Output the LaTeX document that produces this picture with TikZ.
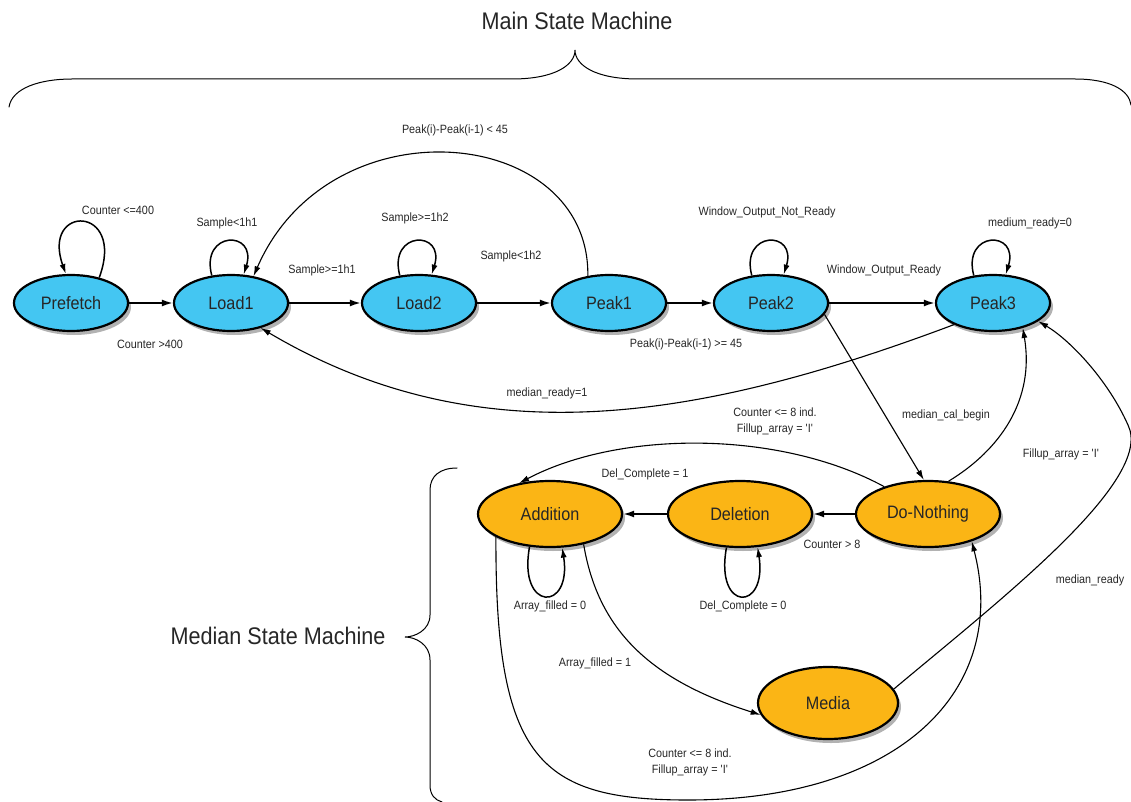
\documentclass[tikz,border=0pt]{standalone}
\usepackage{fontspec}
\setmainfont{Liberation Sans}[FakeStretch=0.9]
\usetikzlibrary{shapes.geometric,arrows.meta,shadows}
\definecolor{sblue}{HTML}{44C6F2}
\definecolor{sorange}{HTML}{FBB515}
\definecolor{txt}{HTML}{262626}
\begin{document}
\begin{tikzpicture}[x=1pt,y=-1pt,
  st/.style={ellipse,draw=black,line width=2.2pt,minimum width=114pt,minimum height=56pt,inner sep=0pt,
    font=\fontsize{18}{20}\selectfont,text=txt,fill=sblue,
    drop shadow={shadow xshift=3pt,shadow yshift=-4pt,opacity=0.3,fill=black}},
  ost/.style={st,fill=sorange,minimum width=144pt,minimum height=66pt},
  lab/.style={font=\fontsize{12}{16}\selectfont,text=txt,align=center,inner sep=1pt},
  big/.style={font=\fontsize{24}{28}\selectfont,text=txt,inner sep=0pt},
  main/.style={-{Latex[length=11pt,width=7pt]},line width=1.8pt},
  cur/.style={-{Latex[length=10pt,width=6pt]},line width=1.1pt},
  lp/.style={-{Latex[length=10pt,width=6pt]},line width=1.5pt},
  brace/.style={line width=1pt,line cap=round}]
\useasboundingbox (0,0) rectangle (1131,802);

% braces
\draw[brace] (9,107) .. controls (12,88) and (40,79) .. (72,79) -- (512,79)
  .. controls (555,79) and (575,65) .. (575,50)
  .. controls (575,65) and (595,79) .. (638,79) -- (1075,79)
  .. controls (1110,79) and (1129,90) .. (1131,105);
\draw[brace] (457,468) .. controls (440,468) and (430,476) .. (430,490) -- (430,615)
  .. controls (430,630) and (415,637) .. (405,637)
  .. controls (415,637) and (430,644) .. (430,660) -- (430,785)
  .. controls (430,795) and (435,800) .. (442,802);
\node[big] (title) at (577,21) {Main State Machine};
\node[big] (mtitle) at (278,636) {Median State Machine};

% states
\node[st] (pre) at (71,303) {Prefetch};
\node[st] (l1) at (231,303) {Load1};
\node[st] (l2) at (419,303) {Load2};
\node[st] (p1) at (609,303) {Peak1};
\node[st] (p2) at (771,303) {Peak2};
\node[st] (p3) at (993,303) {Peak3};
\node[ost] (add) at (550,514) {Addition};
\node[ost] (del) at (740,514) {Deletion};
\node[ost] (dn) at (928,514) {Do-Nothing};
\node[ost,minimum width=140pt,minimum height=72pt] (me) at (828,703) {Media};

% straight transitions
\draw[main] (pre) -- (l1);
\draw[main] (l1) -- (l2);
\draw[main] (l2) -- (p1);
\draw[main] (p1) -- (p2);
\draw[main] (p2) -- (p3);
\draw[main] (dn) -- (del);
\draw[main] (del) -- (add);

% self loops
\draw[lp] (pre.42) .. controls +(27,-73) and +(-25,-70) .. (pre.100);
\draw[lp] (l1.125) .. controls +(-12,-45) and +(14,-45) .. (l1.66);
\draw[lp] (l2.125) .. controls +(-12,-45) and +(14,-45) .. (l2.66);
\draw[lp] (p2.125) .. controls +(-12,-45) and +(14,-45) .. (p2.66);
\draw[lp] (p3.125) .. controls +(-12,-45) and +(14,-45) .. (p3.66);
\draw[lp] (add.-122) .. controls +(-12,65) and +(10,65) .. (add.-70);
\draw[lp] (del.-112) .. controls +(-12,65) and +(10,65) .. (del.-62);

% curved transitions
\draw[cur] (p1.128) .. controls (590,125) and (330,100) .. (l1.50);
\draw[cur] (p3.-151) .. controls (700,420) and (480,458) .. (l1.-40);
\draw[cur] (p2.-12) -- (dn.97);
\draw[cur] (dn.58) .. controls (1000,450) and (1035,400) .. (p3.-40);
\draw[cur] (me.12) .. controls (1000,600) and (1155,480) .. (1128,425)
  .. controls (1108,380) and (1070,340) .. (p3.-22);
\draw[cur] (dn.148) .. controls (780,430) and (620,430) .. (add.135);
\draw[cur] (add.-42) .. controls (598,630) and (650,680) .. (me.190);
\draw[cur] (add.-157) .. controls (495,760) and (540,800) .. (688,800)
  .. controls (900,800) and (1010,690) .. (dn.-32);

% labels
\node[lab] (t1) at (118,210) {Counter <=400};
\node[lab] (t2) at (150,344) {Counter >400};
\node[lab] (t3) at (227,223) {Sample<1h1};
\node[lab] (t4) at (322,270) {Sample>=1h1};
\node[lab] (t5) at (415,218) {Sample>=1h2};
\node[lab] (t6) at (511,256) {Sample<1h2};
\node[lab] (t7) at (455,130) {Peak(i)-Peak(i-1) < 45};
\node[lab] (t8) at (686,344) {Peak(i)-Peak(i-1) >= 45};
\node[lab] (t9) at (767,212) {Window\_Output\_Not\_Ready};
\node[lab] (t10) at (884,270) {Window\_Output\_Ready};
\node[lab] (t11) at (1030,223) {medium\_ready=0};
\node[lab] (t12) at (547,393) {median\_ready=1};
\node[lab] (t13) at (946,415) {median\_cal\_begin};
\node[lab] (t14) at (775,421) {Counter <= 8 ind.\\Fillup\_array = \textquotesingle I\textquotesingle};
\node[lab] (t15) at (1061,454) {Fillup\_array = \textquotesingle I\textquotesingle};
\node[lab] (t16) at (645,474) {Del\_Complete = 1};
\node[lab] (t17) at (832,544) {Counter > 8};
\node[lab] (t18) at (550,606) {Array\_filled = 0};
\node[lab] (t19) at (743,606) {Del\_Complete = 0};
\node[lab] (t20) at (595,663) {Array\_filled = 1};
\node[lab] (t21) at (1090,580) {median\_ready};
\node[lab] (t22) at (690,762) {Counter <= 8 ind.\\Fillup\_array = \textquotesingle I\textquotesingle};
\end{tikzpicture}
\end{document}
